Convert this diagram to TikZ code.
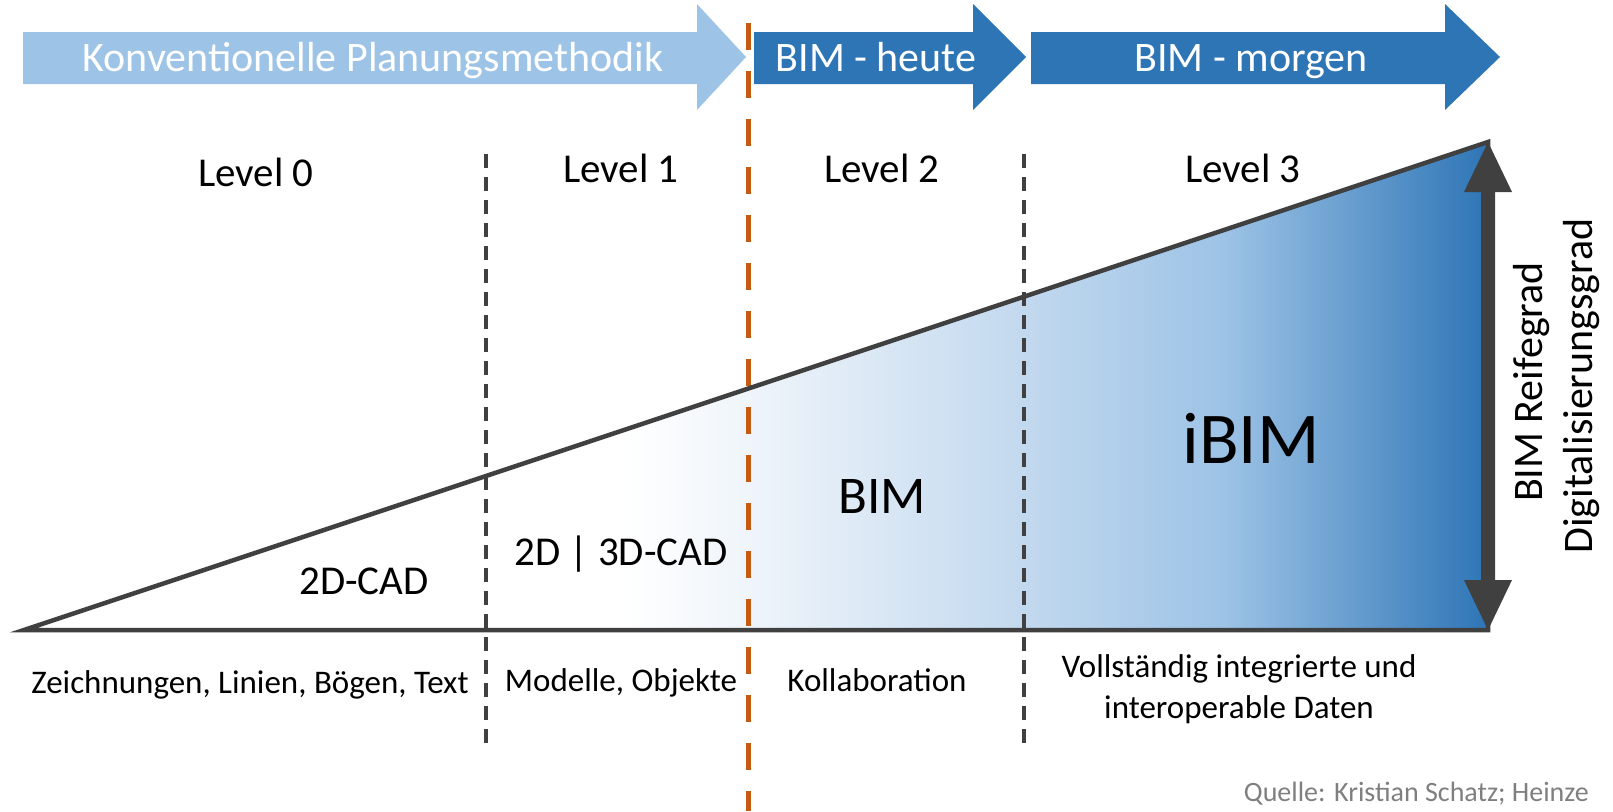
\documentclass[tikz,border=0pt]{standalone}
\usepackage{fontspec}
\setmainfont{Carlito}
\usetikzlibrary{calc}

\definecolor{phaseLight}{HTML}{9DC3E6}
\definecolor{phaseDark}{HTML}{2E75B6}
\definecolor{splitOrange}{HTML}{C55A11}
\definecolor{edgeGray}{HTML}{404040}
\definecolor{noteGray}{HTML}{7F7F7F}
\definecolor{fadeA}{HTML}{EEF4FA}
\definecolor{fadeB}{HTML}{C3D9EF}
\definecolor{fadeC}{HTML}{9DC3E6}

% white on the left, deepening to blue at the right edge of the wedge
\pgfdeclarehorizontalshading{maturity}{100bp}{%
  color(0bp)=(white); color(45.5bp)=(white); color(50bp)=(fadeA);
  color(59bp)=(fadeB); color(66bp)=(fadeC); color(75bp)=(phaseDark);
  color(100bp)=(phaseDark)}

\begin{document}
\begin{tikzpicture}[x=1pt, y=-1pt,
  phase/.style={text=white, font=\fontsize{42}{50}\selectfont, anchor=base, inner sep=0pt},
  level/.style={font=\fontsize{41}{49}\selectfont, anchor=base, inner sep=0pt},
  tech/.style={font=\fontsize{41}{49}\selectfont, anchor=base, inner sep=0pt},
  desc/.style={font=\fontsize{33}{41}\selectfont, align=center, anchor=base, inner sep=0pt},
  axislabel/.style={font=\fontsize{42}{50}\selectfont, rotate=90, anchor=base, inner sep=0pt},
  divider/.style={draw=edgeGray, line width=3.5pt, dash pattern=on 14pt off 9pt},
  split/.style={draw=splitOrange, line width=5pt, dash pattern=on 27pt off 21pt},
  wedge/.style={draw=edgeGray, line width=4.5pt, line join=miter},
  scalebar/.style={fill=edgeGray},
]
\useasboundingbox (0,0) rectangle (1613,811);

% ---- phase arrows along the top ----
\fill[phaseLight] (23,32) -- (697,32) -- (697,4) -- (746,57) -- (697,110) -- (697,84) -- (23,84) -- cycle;
\fill[phaseDark] (754,32) -- (973,32) -- (973,4) -- (1026,57) -- (973,110) -- (973,84) -- (754,84) -- cycle;
\fill[phaseDark] (1031,32) -- (1445,32) -- (1445,4) -- (1500,57) -- (1445,110) -- (1445,84) -- (1031,84) -- cycle;

\node[phase] (conv)   at (373,71)  {Konventionelle Planungsmethodik};
\node[phase] (today)  at (876,71)  {BIM - heute};
\node[phase] (future) at (1251,71) {BIM - morgen};

% ---- maturity wedge ----
\coordinate (w0) at (24,630);
\coordinate (w1) at (1488,630);
\coordinate (w2) at (1488,142);
\shade[shading=maturity] (w0) -- (w1) -- (w2) -- cycle;

% level separators
\coordinate (s1top) at (486,154);  \coordinate (s1bot) at (486,746);
\coordinate (s2top) at (1024,154); \coordinate (s2bot) at (1024,746);
\coordinate (s3top) at (748,23);   \coordinate (s3bot) at (748,811);
\draw[divider] (s1top) -- (s1bot);
\draw[divider] (s2top) -- (s2bot);
\draw[split] (s3top) -- (s3bot);

\draw[wedge] (w0) -- (w1) -- (w2) -- cycle;

% double-headed scale arrow on the right edge
\coordinate (up) at (1488,142);
\coordinate (dn) at (1488,630);
\fill[scalebar] (up) -- ($(up)+(24,50)$) -- ($(up)+(7,50)$) -- ($(dn)+(7,-50)$)
  -- ($(dn)+(24,-50)$) -- (dn) -- ($(dn)+(-24,-50)$) -- ($(dn)+(-7,-50)$)
  -- ($(up)+(-7,50)$) -- ($(up)+(-24,50)$) -- cycle;

\node[axislabel] (reife)  at (1542,382) {BIM Reifegrad};
\node[axislabel] (digital) at (1592,386) {Digitalisierungsgrad};

% ---- level headings ----
\node[level] (l0) at (256,186) {Level 0};
\node[level] (l1) at (621,182) {Level 1};
\node[level] (l2) at (882,182) {Level 2};
\node[level] (l3) at (1243,182) {Level 3};

% ---- technology inside the wedge ----
\node[tech] (cad2)  at (364,594) {2D-CAD};
\node[tech] (cad3)  at (621,565) {2D | 3D-CAD};
\node[tech, font=\fontsize{53}{60}\selectfont] (bim)  at (882,513) {BIM};
\node[tech, font=\fontsize{73}{80}\selectfont] (ibim) at (1251,463) {iBIM};

% ---- descriptions below the axis ----
\node[desc] (d0) at (250,693) {Zeichnungen, Linien, Bögen, Text};
\node[desc] (d1) at (621,691) {Modelle, Objekte};
\node[desc] (d2) at (877,691) {Kollaboration};
\node[desc] (d3a) at (1239,677) {Vollständig integrierte und};
\node[desc] (d3b) at (1239,718) {interoperable Daten};

% ---- source ----
\node[font=\fontsize{28}{34}\selectfont, text=noteGray, anchor=base east, inner sep=0pt] (src)
  at (1589,801) {Quelle: Kristian Schatz; Heinze};
\end{tikzpicture}
\end{document}
